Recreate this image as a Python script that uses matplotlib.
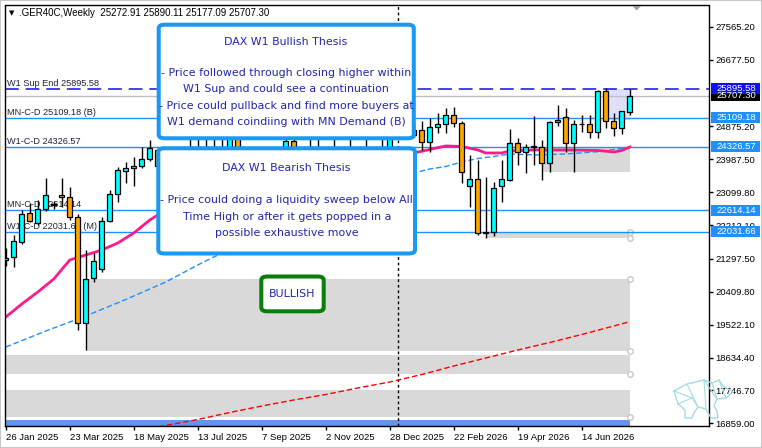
import matplotlib
matplotlib.use('Agg')
import matplotlib.pyplot as plt
import matplotlib.transforms as mtransforms
from matplotlib.patches import FancyBboxPatch, Rectangle, Polygon

W, H = 762, 448

# ---- weekly candles, index 0 = week of 26 Jan 2025 ----
opens = [21280, 21358, 21763, 22529, 22260, 22637, 22750, 23015, 22961, 22437,
         19560, 20774, 21017, 22330, 23050, 23680, 23743, 23806, 23986, 24250,
         23800, 23500, 23900, 24200, 24150, 24000, 24250, 24100, 24220, 24600,
         24250, 24000, 23600, 23900, 24150, 24000, 24480, 24250, 23900, 24300,
         24200, 23800, 24150, 23900, 24100, 23600, 24000, 23700, 24200, 24600,
         24750, 24650, 24777, 24462, 24850, 24930, 25182, 24958, 23274, 23455,
         21989, 22033, 23266, 23428, 24418, 24175, 24320, 24330, 23878, 24985,
         25120, 24435, 24930, 24930, 24715, 25830, 25020, 24823, 25272.91]
highs = [21600, 21943, 22618, 22799, 22888, 23474, 22850, 23474, 23247, 22520,
         21538, 21449, 22437, 23158, 23787, 23922, 24057, 24326, 24507, 24280,
         24100, 24150, 24280, 24560, 24580, 24560, 24600, 24560, 24650, 24700,
         24300, 24100, 24050, 24250, 24280, 24600, 24650, 24280, 24560, 24600,
         24250, 24560, 24280, 24560, 24200, 24560, 24150, 24560, 24650, 24850,
         24900, 24950, 25028, 25093, 25228, 25363, 25406, 25028, 24103, 23968,
         23517, 23382, 23968, 24796, 24553, 24399, 25155, 24507, 25020, 25452,
         25379, 25047, 25182, 25182, 25857, 25902, 25228, 25300, 25890.11]
lows = [21100, 21088, 21700, 22300, 22200, 22600, 22650, 22708, 22348, 19380,
        18840, 20683, 20950, 22300, 22842, 23338, 23274, 23760, 23950, 23410,
        23300, 23400, 23700, 23950, 23850, 23800, 23900, 23950, 24150, 24200,
        23700, 23500, 23400, 23800, 23650, 23950, 24100, 23700, 23850, 24000,
        23500, 23700, 23600, 23800, 23400, 23500, 23300, 23650, 24150, 24560,
        24570, 24580, 24237, 24192, 24688, 24688, 24866, 23338, 22708, 21943,
        21854, 21917, 22842, 23400, 23833, 23608, 23833, 23418, 23644, 24893,
        24192, 23643, 24732, 24553, 24553, 24823, 24616, 24670, 25177.09]
closes = [21330, 21789, 22502, 22321, 22637, 23023, 22780, 22961, 22437, 19560,
          20748, 21233, 22313, 23050, 23698, 23743, 23806, 23986, 24283, 23800,
          23500, 23900, 24200, 24150, 24000, 24250, 24100, 24220, 24600, 24250,
          24000, 23600, 23900, 24150, 24000, 24480, 24250, 23900, 24300, 24200,
          23800, 24150, 23900, 24100, 23600, 24000, 23700, 24200, 24600, 24750,
          24650, 24777, 24462, 24866, 24939, 25182, 24958, 23635, 23455, 21989,
          22033, 23204, 23447, 24418, 24175, 24327, 24340, 23878, 24985, 25047,
          24435, 24930, 24950, 24715, 25830, 25020, 24823, 25290, 25707.30]

# moving averages (week index, price)
pink_idx = [0, 2, 4, 6, 8, 10, 12, 14, 16, 18, 19, 24, 30, 36, 42, 48, 51, 53, 55, 57,
            59, 60, 62, 63, 66, 70, 74, 76, 77, 78]
pink_val = [19730, 20081, 20405, 20756, 21269, 21403, 21538, 21727, 21997, 22348, 22483,
            23023, 23563, 23887, 24076, 24157, 24157, 24251, 24346, 24332, 24238, 24157,
            24157, 24211, 24238, 24238, 24224, 24184, 24224, 24319]
blue_idx = [0, 5, 10, 15, 20, 24, 26, 32, 38, 44, 48, 51, 53, 55, 57, 59, 61, 63, 66, 70, 74, 78]
blue_val = [18920, 19352, 19757, 20203, 20675, 21134, 21350, 21944, 22537, 23077, 23374,
            23617, 23725, 23792, 23914, 24008, 24062, 24130, 24103, 24130, 24192, 24310]
red_idx = [15, 20, 24, 28, 32, 36, 40, 44, 48, 52, 56, 60, 64, 68, 72, 76, 78]
red_val = [16600, 16802, 16964, 17153, 17328, 17490, 17638, 17814, 17976, 18178, 18408,
           18623, 18840, 19042, 19258, 19487, 19603]

# horizontal levels
sup_end = 25895.58
last_price = 25707.30
cd_levels = [25109.18, 24326.57, 22614.14, 22031.66]
cd_names = ['MN-C-D 25109.18 (B)', 'W1-C-D 24326.57', 'MN-C-D 22614.14', 'W1-C-D 22031.66 (M)']

# zones: (start index, end index, low, high, colour)
zones = [(10, 78, 18820, 20748, '#d9d9d9'),
         (-5, 78, 18191, 18705, '#d9d9d9'),
         (-5, 78, 17039, 17760, '#d9d9d9'),
         (-5, 78, 16790, 16950, '#6495ed'),
         (60, 78, 21862, 22031.66, '#d9d9d9'),
         (67, 78, 23652, 24326.57, '#d9d9d9'),
         (75, 78, 25034, 25895.58, '#dfe0f7')]
anchor_prices = [22031.66, 21862, 20748, 18820, 18191, 17039]

y_ticks = [27565.20, 26677.50, 24875.20, 23987.50, 23099.80, 22212.10, 21297.50,
           20409.80, 19522.10, 18634.40, 17746.70, 16859.00]
x_tick_idx = [0, 8, 16, 24, 32, 40, 48, 56, 64, 72]
x_tick_lab = ['26 Jan 2025', '23 Mar 2025', '18 May 2025', '13 Jul 2025', '7 Sep 2025',
              '2 Nov 2025', '28 Dec 2025', '22 Feb 2026', '19 Apr 2026', '14 Jun 2026']

bull_lines = ['DAX W1 Bullish Thesis', '',
              '- Price followed through closing higher within',
              'W1 Sup and could see a continuation',
              '- Price could pullback and find more buyers at',
              'W1 demand coindiing with MN Demand (B)']
bear_lines = ['DAX W1 Bearish Thesis', '',
              '- Price could doing a liquidity sweep below All',
              'Time High or after it gets popped in a',
              'possible exhaustive move']

plt.rcParams['font.family'] = ['Liberation Sans', 'DejaVu Sans']


def fx(x, y):
    return x / W, 1 - y / H


fig = plt.figure(figsize=(W / 100, H / 100), dpi=100)
fig.patch.set_facecolor('white')
ax = fig.add_axes([5 / W, 1 - 426 / H, 704 / W, (426 - 5.5) / H])
ax.set_xlim(-0.1, 87.9)
ax.set_ylim(16788, 28137)

for x0, x1, lo, hi, col in zones:
    ax.add_patch(Rectangle((x0, lo), x1 - x0, hi - lo, facecolor=col, lw=0, zorder=0.5))
for p in anchor_prices:
    ax.plot(78, p, 'o', ms=4, mfc='white', mec='#c8c8c8', mew=1, zorder=1, clip_on=False)

ax.axvline(49, color='black', lw=1, ls=(0, (2, 2)), zorder=1)

ax.axhline(sup_end, color='#1010e8', lw=1.1, ls=(0, (9, 4.5)), zorder=1.2)
ax.axhline(last_price, color='#c0c0c0', lw=1, zorder=1.1)
for lv in cd_levels:
    ax.axhline(lv, color='#1e90ff', lw=1, zorder=1.2)

ax.plot(red_idx, red_val, color='red', lw=1, ls=(0, (4, 2)), zorder=1.3)
ax.plot(blue_idx, blue_val, color='#1e90ff', lw=1, ls=(0, (4, 2)), zorder=1.3)
ax.plot(pink_idx, pink_val, color='#ff1a8c', lw=2, zorder=1.4)

# left labels
lab_kw = dict(fontsize=6.6, color='#20203a', va='bottom', ha='left', zorder=1.5)
btrans = mtransforms.blended_transform_factory(ax.transAxes, ax.transData)
ax.text(0.003, sup_end + 20, 'W1 Sup End 25895.58', transform=btrans, **lab_kw)
for lv, nm in zip(cd_levels, cd_names):
    ax.text(0.003, lv + 20, nm, transform=btrans, **lab_kw)

# candles
idx = list(range(len(opens)))
ax.vlines(idx, lows, highs, color='black', lw=1, zorder=3)
bottoms = [min(o, c) for o, c in zip(opens, closes)]
heights = [max(abs(c - o), 8) for o, c in zip(opens, closes)]
cols = ['#00ffff' if c >= o else '#ffa500' for o, c in zip(opens, closes)]
ax.bar(idx, heights, bottom=bottoms, width=0.62, color=cols, edgecolor='black', lw=0.9, zorder=4)

# axes styling
for s in ax.spines.values():
    s.set_color('black')
    s.set_linewidth(1)
ax.yaxis.tick_right()
ax.set_yticks(y_ticks)
ax.set_yticklabels(['%.2f' % v for v in y_ticks])
ax.set_xticks(x_tick_idx)
ax.set_xticklabels(x_tick_lab)
ax.tick_params(axis='y', length=3, width=1, pad=1.5, labelsize=6.8, colors='black')
ax.tick_params(axis='x', length=3, width=1, pad=2, labelsize=6.8, colors='black')
for lab in ax.get_xticklabels():
    lab.set_ha('left')

# highlighted price labels on the right
price_tags = [(last_price, 'black', 'white'), (sup_end, '#1010f0', 'white')] + \
             [(lv, '#1e90ff', 'white') for lv in cd_levels]
for p, bg, fg in price_tags:
    ax.add_patch(Rectangle((1.0025, p - 150), 0.0705, 300, transform=btrans, facecolor=bg,
                           lw=0, clip_on=False, zorder=5))
    ax.text(1.0105, p, '%.2f' % p, transform=btrans, fontsize=6.8, color=fg, va='center',
            ha='left', clip_on=False, zorder=6)

# text boxes
def add_box(x0, y0, x1, y1, edge):
    a = fx(x0, y1)
    b = fx(x1, y0)
    fig.patches.append(FancyBboxPatch(a, b[0] - a[0], b[1] - a[1], transform=fig.transFigure,
                                      boxstyle='round,pad=0,rounding_size=0.008',
                                      facecolor='white', edgecolor=edge, lw=2.9, zorder=10))

add_box(158.7, 24.7, 413.8, 138.3, '#1a98f2')
add_box(158.3, 148.3, 415.0, 253.5, '#1a98f2')
add_box(261.3, 276.5, 323.7, 311.3, '#0a7d0a')

txt_kw = dict(family='DejaVu Sans', fontsize=7.9, color='#2424b0', ha='center',
              va='center', zorder=11)
for k, ln in zip([41.7, 57, 72.7, 89.3, 106.3, 122], bull_lines):
    fig.text(*fx(286, k), ln, **txt_kw)
for k, ln in zip([168.3, 184, 200, 216.7, 233.3], bear_lines):
    fig.text(*fx(286.7, k), ln, **txt_kw)
fig.text(*fx(292.5, 293.5), 'BULLISH', **txt_kw)

# header
fig.text(*fx(9, 13), '\u25bc', fontsize=5, color='black', va='center', family='DejaVu Sans')
fig.text(*fx(19, 13), '.GER40C,Weekly  25272.91 25890.11 25177.09 25707.30', fontsize=7,
         color='black', va='center')
fig.patches.append(Polygon([fx(632.5, 6), fx(641, 6), fx(636.7, 10.5)], closed=True,
                           transform=fig.transFigure, facecolor='#a0a0a0', lw=0))

# watermark bear (wireframe logo, bottom right)
bear_outline = [(674, 391), (687, 384), (704, 380), (712, 383), (719, 380), (723, 386),
                (733, 392), (726, 398), (717, 399), (714, 406), (717, 411), (718, 418),
                (711, 418), (706, 409), (698, 407), (694, 413), (692, 418), (685, 418),
                (685, 410), (678, 404), (674, 391)]
bear_inner = [[(687, 384), (698, 407)], [(704, 380), (706, 409)], [(704, 380), (717, 399)],
              [(674, 391), (692, 398)], [(692, 398), (698, 407)], [(712, 383), (717, 399)],
              [(678, 404), (692, 398)], [(719, 380), (726, 398)]]
fig.lines.append(plt.Line2D([fx(*p)[0] for p in bear_outline], [fx(*p)[1] for p in bear_outline],
                            transform=fig.transFigure, color='#a6dbe2', lw=1))
for seg in bear_inner:
    fig.lines.append(plt.Line2D([fx(*p)[0] for p in seg], [fx(*p)[1] for p in seg],
                                transform=fig.transFigure, color='#a6dbe2', lw=0.8))

# window frame
fig.patches.append(Rectangle((0, 0), 1, 1, transform=fig.transFigure, fill=False,
                             edgecolor='#c8c8c8', lw=1.5))

fig.savefig('out.png', dpi=100)
